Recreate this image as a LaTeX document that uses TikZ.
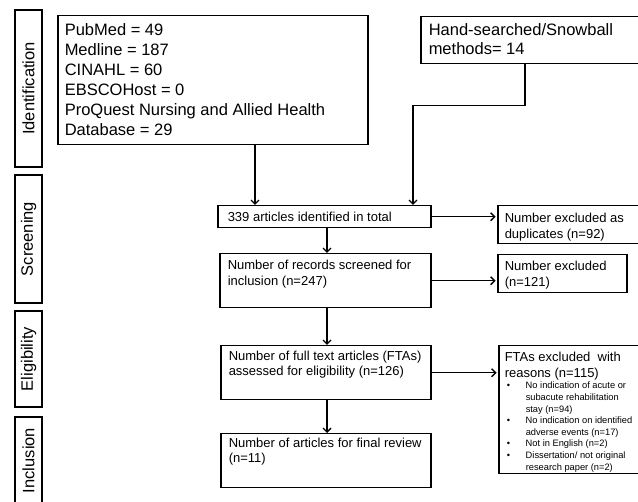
\documentclass[tikz,border=0pt]{standalone}
\usepackage{fontspec}
\setmainfont{Liberation Sans}
\usetikzlibrary{arrows.meta}
% #1 width, #2 height, #3 left pad, #4 first baseline from top, #5 text
\newcommand{\bxt}[5]{\parbox[c][#2][t]{#1}{\leftskip=#3\rightskip=0pt plus 1fil\parfillskip=0pt plus 1fil\rule{0pt}{#4}#5\par}}
\newcommand{\bul}{\hangindent=21pt\hangafter=1 \makebox[21pt][l]{\hspace{2pt}•}}
\begin{document}
\begin{tikzpicture}[x=1pt,y=-1pt,
  box/.style={draw,line width=1.5pt,inner sep=0pt,anchor=north west,font=\fontsize{13}{15.5}\selectfont},
  big/.style={font=\fontsize{16.5}{20}\selectfont},
  phase/.style={draw,line width=1.5pt,inner sep=0pt,rotate=90,minimum height=27pt,font=\fontsize{16.5}{20}\selectfont},
  arr/.style={line width=1.4pt,-{Straight Barb[length=4pt,width=8pt]}}]
\clip (0,0) rectangle (638,502);
% phase labels
\node[phase,minimum width=157pt] (pid) at (28.5,88.5) {Identification};
\node[phase,minimum width=128pt] (pscr) at (28.5,239) {Screening};
\node[phase,minimum width=96pt] (pel) at (28.5,359) {Eligibility};
\node[phase,minimum width=87pt] (pinc) at (28.5,460.5) {Inclusion};
% boxes
\node[box,big] (src) at (57,15) {\bxt{310pt}{129pt}{7pt}{20pt}{PubMed = 49\\Medline = 187\\CINAHL = 60\\EBSCOHost = 0\\ProQuest Nursing and Allied Health\\Database = 29}};
\node[box,font=\fontsize{16.5}{19}\selectfont] (hand) at (420,16) {\bxt{260pt}{47pt}{8pt}{19pt}{Hand-searched/Snowball\\methods= 14}};
\node[box] (tot) at (217,205) {\bxt{213pt}{22pt}{10pt}{15.5pt}{339 articles identified in total}};
\node[box] (dup) at (497,205) {\bxt{200pt}{38pt}{7pt}{17pt}{Number excluded as\\duplicates (n=92)}};
\node[box] (rec) at (219,253) {\bxt{211pt}{54pt}{8pt}{16pt}{Number of records screened for\\inclusion (n=247)}};
\node[box] (exc) at (497,254) {\bxt{129pt}{38pt}{7pt}{16pt}{Number excluded\\(n=121)}};
\node[box] (fta) at (220,345) {\bxt{210pt}{54pt}{8pt}{14.5pt}{Number of full text articles (FTAs)\\assessed for eligibility (n=126)}};
\node[box] (ftx) at (498,345) {\bxt{200pt}{128pt}{6pt}{16pt}{FTAs excluded\ \ with\\reasons (n=115)\par
{\fontsize{9.3}{11.6}\selectfont
\bul No indication of acute or\\subacute rehabilitation\\stay (n=94)\par
\bul No indication on identified\\adverse events (n=17)\par
\bul Not in English (n=2)\par
\bul Dissertation/ not original\\research paper (n=2)\par}}};
\node[box] (fin) at (220,433) {\bxt{210pt}{54pt}{8pt}{13.5pt}{Number of articles for final review\\(n=11)}};
% connectors
\draw[arr] ([xshift=198pt]src.south west) -- ([xshift=198pt]src.south west |- tot.north);
\draw[arr] ([xshift=105pt]hand.south west) -- ++(0,41) -| ([xshift=196pt]tot.north west);
\draw[arr] (tot.east) -- ([xshift=-1.5pt]tot.east -| dup.west);
\draw[arr] ([xshift=110pt]tot.south west) -- ([xshift=110pt]tot.south west |- rec.north);
\draw[arr] (rec.east) -- ([xshift=-1.5pt]rec.east -| exc.west);
\draw[arr] ([xshift=108pt]rec.south west) -- ([xshift=108pt]rec.south west |- fta.north);
\draw[arr] (fta.east) -- ([xshift=-1.5pt]fta.east -| ftx.west);
\draw[arr] ([xshift=107pt]fta.south west) -- ([xshift=107pt]fta.south west |- fin.north);
\end{tikzpicture}
\end{document}
